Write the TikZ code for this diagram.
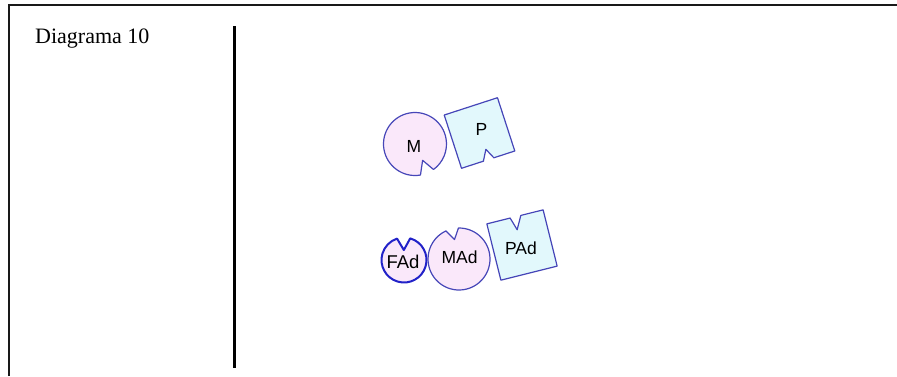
\documentclass[tikz,border=0pt]{standalone}
\usepackage{fontspec}
\setmainfont{Liberation Serif}
\newfontfamily\labelfont{Liberation Sans}
\definecolor{lilac}{HTML}{FAE8FA}
\definecolor{aqua}{HTML}{E2F8FC}
\definecolor{edgeblue}{HTML}{4646B8}
\definecolor{darkedge}{HTML}{2222C8}

\begin{document}
\begin{tikzpicture}[x=1pt,y=-1pt,
    mol/.style={draw=edgeblue,line width=1.2pt,line join=round},
    cell/.style={mol,fill=lilac},
    block/.style={mol,fill=aqua},
    lbl/.style={font=\labelfont\fontsize{17.5}{17.5}\selectfont,inner sep=0pt}]
	\useasboundingbox (0,0) rectangle (897,376);
	% frame and divider
	\draw[line width=2.8pt,black!90](9,376) -- (9,5) -- (897,5);
	\draw[line width=2.4pt](234.5,26) -- (234.5,368);
	\node[anchor=base west,inner sep=0pt,font=\fontsize{22}{22}\selectfont](title) at(35,43){Diagrama 10};
	
	% upper pair
	\begin{scope}[shift={(415,144)}]
		\draw[cell](80:31.5) arc[start angle=80,end angle=414,radius=31.5] -- (65:18) --cycle;
	\end{scope}
	\begin{scope}[shift={(479.5,133)},rotate=18]
		\draw[block](-28,-28) -- (28,-28) -- (28,28) -- (6,28) -- (1,17.5) -- (-5,28) -- (-28,28) --cycle;
	\end{scope}
	\node[lbl](M) at(414,146){M};
	\node[lbl](P) at(481.5,129){P};
	
	% lower row
	\begin{scope}[shift={(404,260)}]
		\draw[cell,draw=darkedge,line width=2pt](-74:22.5) arc[start angle=-74,end angle=252,radius=22.5] -- (-91:10) --cycle;
	\end{scope}
	\begin{scope}[shift={(459,259)}]
		\draw[cell](-91:31) arc[start angle=-91,end angle=245,radius=31] -- (-103:20) --cycle;
	\end{scope}
	\begin{scope}[shift={(522,245)},rotate=14]
		\draw[block](-29,-29) -- (-5,-29) -- (-1,-16) -- (6,-29) -- (29,-29) -- (29,29) -- (-29,29) --cycle;
	\end{scope}
	\node[lbl,font=\labelfont\fontsize{18.5}{18.5}\selectfont](FAd) at(403,262){FAd};
	\node[lbl](MAd) at(459.5,257.5){MAd};
	\node[lbl](PAd) at(521,248){PAd};
\end{tikzpicture}
\end{document}
